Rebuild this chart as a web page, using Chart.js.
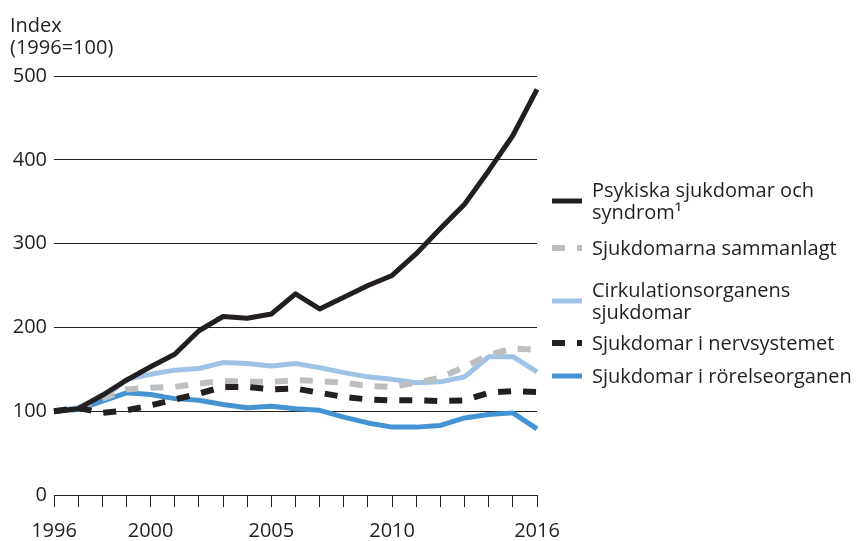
<!DOCTYPE html>
<html>
<head>
<meta charset="utf-8">
<script src="https://cdn.jsdelivr.net/npm/chart.js@4.4.1/dist/chart.umd.min.js"></script>
<style>
  html, body { margin: 0; background: #fff; }
</style>
</head>
<body>
<canvas id="chart" width="860" height="541"></canvas>
<script>
const years = ['1996', '1997', '1998', '1999', '2000', '2001', '2002', '2003', '2004', '2005', '2006',
               '2007', '2008', '2009', '2010', '2011', '2012', '2013', '2014', '2015', '2016'];
const shownYears = ['1996', '2000', '2005', '2010', '2016'];
const yTicks = [0, 100, 200, 300, 400, 500];

const psykiska    = [100, 103, 119, 137, 153, 168, 196, 213, 211, 216, 240, 222, 236, 250, 262, 288, 318, 347, 387, 429, 484];
const sammanlagt  = [100, 104, 115, 126, 128, 129, 133, 136, 135, 135, 137, 136, 134, 130, 129, 134, 140, 153, 167, 175, 173];
const cirkulation = [100, 104, 114, 138, 144, 149, 151, 158, 157, 154, 157, 152, 146, 141, 138, 134, 135, 141, 165, 165, 147];
const nervsystem  = [100, 104,  98, 101, 107, 114, 121, 129, 129, 126, 127, 122, 117, 114, 113, 113, 112, 113, 122, 124, 123];
const rorelse     = [100, 102, 112, 122, 120, 115, 113, 108, 104, 106, 103, 101,  93,  86,  81,  81,  83,  92,  96,  98,  79];

const legendLabels = [
  ['Psykiska sjukdomar och', 'syndrom\u00b9'],
  ['Sjukdomarna sammanlagt'],
  ['Cirkulationsorganens', 'sjukdomar'],
  ['Sjukdomar i nervsystemet'],
  ['Sjukdomar i rörelseorganen']
];

const ink = '#231f20';
const font = '"Open Sans", sans-serif';

function line(label, data, color, width, dash, order) {
  return {
    label: label.join(' '),
    legendLines: label,
    data: data,
    borderColor: color,
    backgroundColor: color,
    borderWidth: width,
    borderDash: dash,
    borderCapStyle: 'butt',
    borderJoinStyle: 'round',
    pointRadius: 0,
    tension: 0,
    fill: false,
    order: order
  };
}

// title and legend drawn by hand so the labels can wrap like the original
const annotations = {
  id: 'annotations',
  afterDraw(chart) {
    const ctx = chart.ctx;
    ctx.save();
    ctx.fillStyle = ink;
    ctx.font = '20px ' + font;
    ctx.textAlign = 'left';
    ctx.textBaseline = 'alphabetic';
    ctx.fillText('Index', 10, 32);
    ctx.fillText('(1996=100)', 10, 54);

    const baselines = [197, 255, 297, 350, 383];
    const lineHeight = 22;
    chart.data.datasets.forEach((ds, i) => {
      const y0 = baselines[i];
      ds.legendLines.forEach((t, j) => {
        ctx.fillStyle = ink;
        ctx.fillText(t, 592, y0 + j * lineHeight);
      });
      const sy = y0 - 7 + (ds.legendLines.length - 1) * lineHeight / 2;
      ctx.beginPath();
      ctx.strokeStyle = ds.borderColor;
      ctx.lineWidth = ds.borderDash.length ? 6 : 5;
      ctx.setLineDash(ds.borderDash);
      ctx.lineCap = 'butt';
      ctx.moveTo(552, sy);
      ctx.lineTo(582, sy);
      ctx.stroke();
    });
    ctx.restore();
  }
};

new Chart(document.getElementById('chart'), {
  type: 'line',
  data: {
    labels: years,
    datasets: [
      line(legendLabels[0], psykiska, ink, 5, [], 0),
      line(legendLabels[1], sammanlagt, '#bcbec0', 6, [13, 12], 2),
      line(legendLabels[2], cirkulation, '#9ec3e7', 5, [], 4),
      line(legendLabels[3], nervsystem, ink, 6, [13, 12], 1),
      line(legendLabels[4], rorelse, '#4494d3', 5, [], 3)
    ]
  },
  options: {
    responsive: false,
    animation: false,
    devicePixelRatio: 1,
    layout: { padding: { top: 76, right: 323, bottom: 0, left: 0 } },
    plugins: { legend: { display: false }, tooltip: { enabled: false } },
    scales: {
      x: {
        type: 'category',
        offset: false,
        grid: { drawOnChartArea: false, drawTicks: true, tickLength: 12, color: ink, lineWidth: 1 },
        border: { display: true, color: ink, width: 1 },
        ticks: {
          autoSkip: false,
          maxRotation: 0,
          padding: 12,
          color: ink,
          font: { family: font, size: 20 },
          callback: function (v, i) { return shownYears.includes(years[i]) ? years[i] : ''; }
        },
        afterFit: s => { s.height = 46; }
      },
      y: {
        min: 0,
        max: 500,
        afterBuildTicks: s => { s.ticks = yTicks.map(v => ({ value: v })); },
        grid: { drawTicks: false, color: ink, lineWidth: 1 },
        border: { display: false },
        ticks: {
          padding: 7,
          color: ink,
          font: { family: font, size: 20 }
        },
        afterFit: s => { s.width = 54; }
      }
    }
  },
  plugins: [annotations]
});
</script>
</body>
</html>
